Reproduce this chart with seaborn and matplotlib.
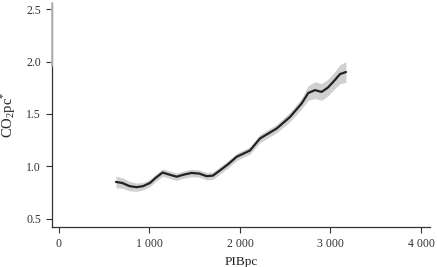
import numpy as np
import pandas as pd
import seaborn as sns
import matplotlib.pyplot as plt
from matplotlib.ticker import FuncFormatter

# values
pib = [630, 700, 780, 858, 930, 1005, 1070, 1145, 1220, 1300, 1380, 1466,
       1550, 1632, 1700, 1779, 1870, 1963, 2110, 2221, 2405, 2552, 2682,
       2755, 2829, 2902, 2970, 3031, 3105, 3171]
co2 = [0.85, 0.84, 0.81, 0.80, 0.81, 0.84, 0.89, 0.94, 0.92, 0.90, 0.92, 0.936,
       0.93, 0.905, 0.91, 0.96, 1.02, 1.09, 1.15, 1.265, 1.36, 1.47, 1.60,
       1.70, 1.727, 1.71, 1.75, 1.806, 1.88, 1.90]
band = [0.055, 0.05, 0.045, 0.04, 0.035, 0.035, 0.035, 0.035, 0.035, 0.035, 0.035, 0.035,
        0.035, 0.035, 0.035, 0.035, 0.035, 0.035, 0.035, 0.04, 0.04, 0.045, 0.05,
        0.07, 0.08, 0.08, 0.08, 0.08, 0.09, 0.10]

df = pd.DataFrame({'PIBpc': pib, 'CO2pc': co2})
lo = np.array(co2) - np.array(band)
hi = np.array(co2) + np.array(band)

sns.set_theme(style="ticks")
plt.rcParams['font.family'] = ['Liberation Serif', 'DejaVu Serif']
plt.rcParams['mathtext.fontset'] = 'custom'
plt.rcParams['mathtext.rm'] = 'Liberation Serif'
plt.rcParams['mathtext.it'] = 'Liberation Serif:italic'

fig = plt.figure(figsize=(4.37, 2.67), dpi=100)
ax = fig.add_axes([0.119, 0.15, 0.865, 0.839])

ax.fill_between(pib, lo, hi, color='#d0d0d0', linewidth=0)
sns.lineplot(data=df, x='PIBpc', y='CO2pc', color='#222222', linewidth=1.6, ax=ax)

ax.set_xlim(-77, 4100)
ax.set_ylim(0.42, 2.56)
ax.set_xticks([0, 1000, 2000, 3000, 4000])
ax.set_yticks([0.5, 1.0, 1.5, 2.0, 2.5])
ax.xaxis.set_major_formatter(FuncFormatter(lambda v, p: f"{int(v):,}".replace(',', ' ')))
ax.yaxis.set_major_formatter(FuncFormatter(lambda v, p: f"{v:.1f}"))

for s in ['top', 'right']:
    ax.spines[s].set_visible(False)
for s in ['left', 'bottom']:
    ax.spines[s].set_color('#333333')
    ax.spines[s].set_linewidth(0.9)
# lighter top part of the left spine, as in the reference
ax.plot([0, 0], [0.72, 1.0], transform=ax.transAxes, color='#b8b8b8',
        linewidth=1.3, clip_on=False, zorder=5)
ax.tick_params(length=4, width=0.8, colors='#333333', labelsize=8.5, pad=4)

ax.set_xlabel('PIBpc', fontsize=9.5, color='#222222')
ax.set_ylabel(r'CO$_{\mathregular{2}}$pc$^{*}$', fontsize=10.5, color='#222222', labelpad=6)

fig.savefig('out.png', dpi=100)
